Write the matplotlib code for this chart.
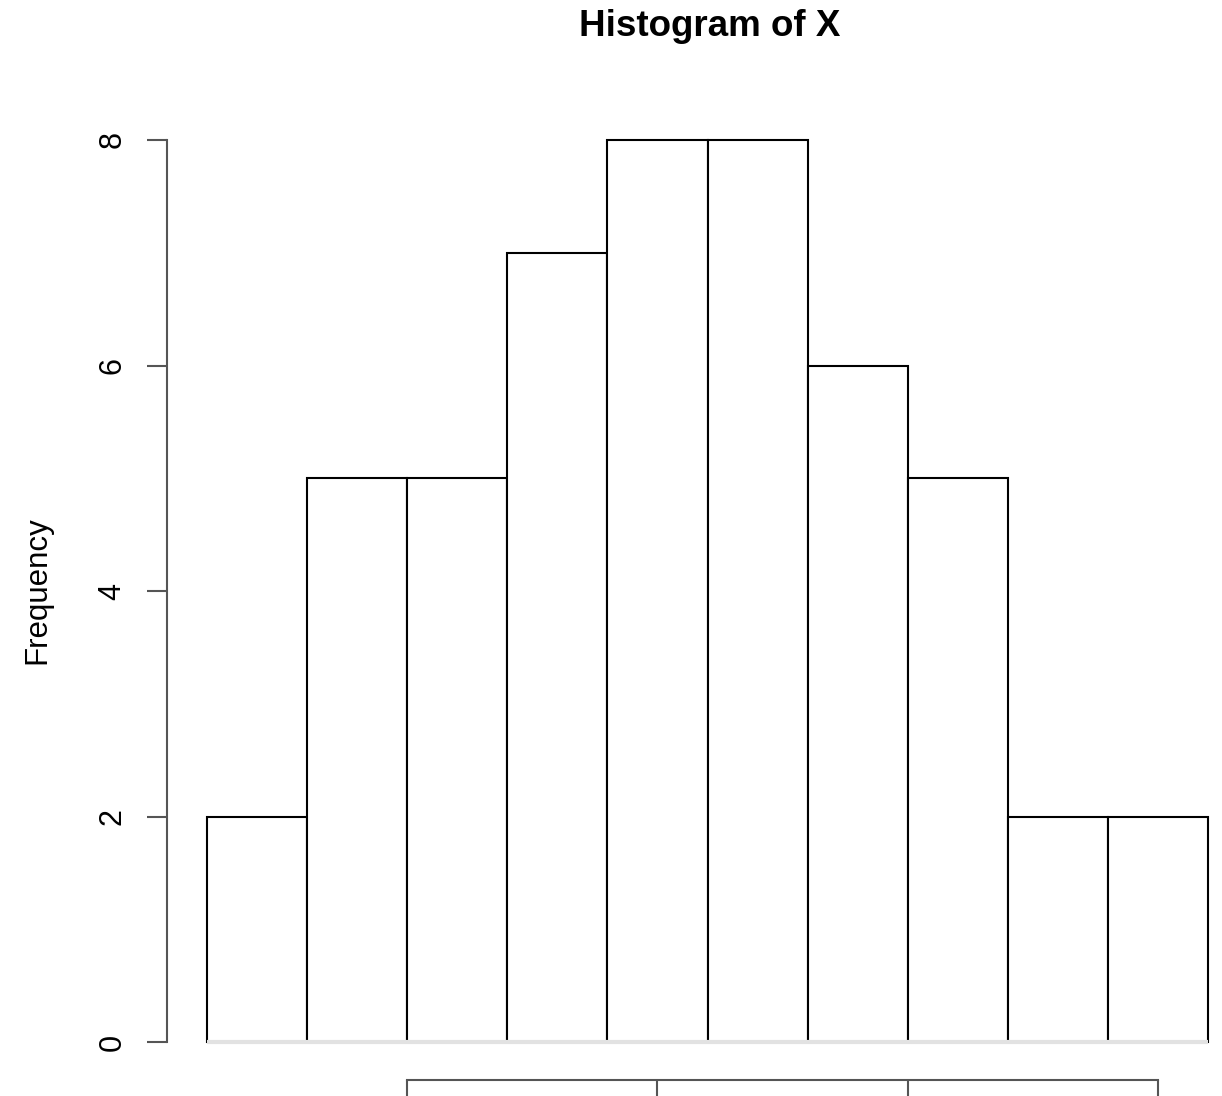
import numpy as np
from matplotlib import pyplot as plt

# histogram counts
edges = [6, 8, 10, 12, 14, 16, 18, 20, 22, 24, 26]
counts = [2, 5, 5, 7, 8, 8, 6, 5, 2, 2]
x_ticks = [10, 15, 20, 25]
y_ticks = [0, 2, 4, 6, 8]

plt.rcParams['font.family'] = ['Liberation Sans', 'DejaVu Sans']

fig = plt.figure(figsize=(12.22, 10.96), dpi=100)
ax = fig.add_axes([0, 0, 1, 1])
ax.patch.set_alpha(0)

# map the pixel grid of the (cropped) R plot
px_x = 50.05   # pixels per x unit
px_y = 112.75  # pixels per y unit
ax.set_xlim(6 - 207 / px_x, 6 + 1015 / px_x)
ax.set_ylim(-54 / px_y, 8 + 140 / px_y)

ax.hist(edges[:-1], bins=edges, weights=counts,
        facecolor='white', edgecolor='black', linewidth=1.5, zorder=2)
ax.plot([edges[0], edges[-1]], [0, 0], color='#e2e2e2', lw=3, zorder=3,
        solid_capstyle='butt')

for s in ['top', 'right']:
    ax.spines[s].set_visible(False)
ax.spines['left'].set_position(('data', 6 - 40 / px_x))
ax.spines['left'].set_bounds(0, 8)
ax.spines['bottom'].set_position(('data', -38 / px_y))
ax.spines['bottom'].set_bounds(x_ticks[0], x_ticks[-1])
for s in ['left', 'bottom']:
    ax.spines[s].set_color('#555555')
    ax.spines[s].set_linewidth(1.5)

ax.set_yticks(y_ticks)
ax.set_xticks(x_ticks)
ax.tick_params(axis='y', length=14.4, width=1.5, color='#555555', pad=14,
               labelsize=22)
ax.tick_params(axis='x', length=14.4, width=1.5, color='#555555',
               labelbottom=False)
for lab in ax.get_yticklabels():
    lab.set_rotation(90)
    lab.set_va('center')

fig.text(37 / 1222, 1 - 590 / 1096, 'Frequency', rotation=90,
         ha='center', va='center', fontsize=22.5)
fig.text(710 / 1222, 1 - 27 / 1096, 'Histogram of X', ha='center',
         va='center', fontsize=26.5, fontweight='bold')

plt.savefig('out.png', dpi=100)
